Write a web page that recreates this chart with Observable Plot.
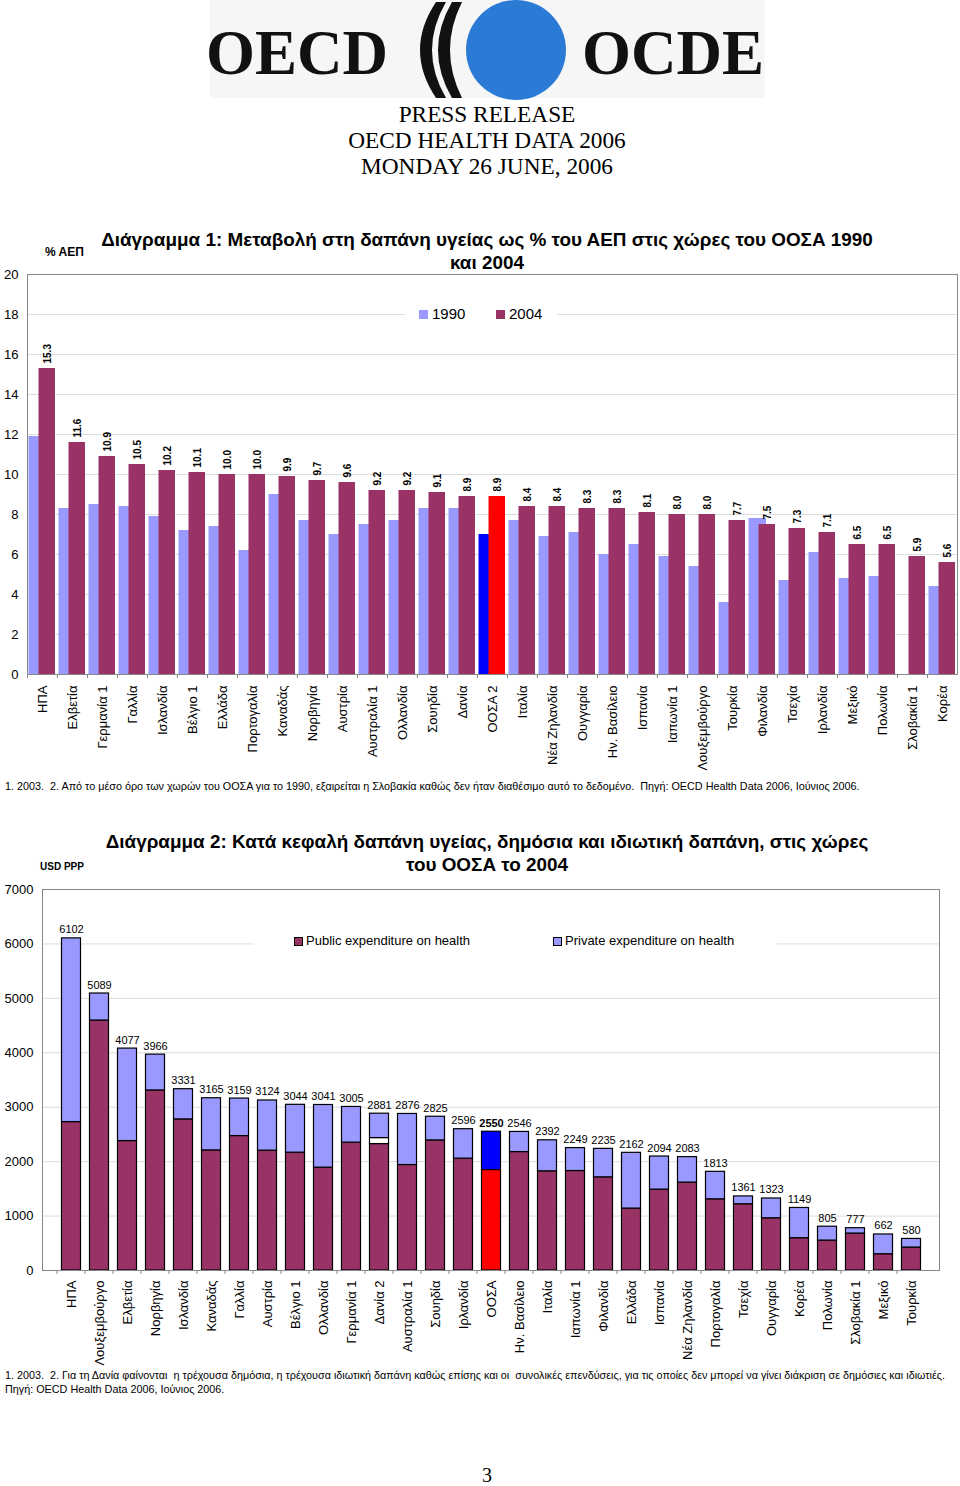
<!DOCTYPE html>
<html><head><meta charset="utf-8">
<script src="https://cdn.jsdelivr.net/npm/d3@7"></script>
<script src="https://cdn.jsdelivr.net/npm/@observablehq/plot@0.6"></script>
<style>
body{margin:0;background:#fff;font-family:"Liberation Sans",Arial,sans-serif;color:#000;}
#page{position:relative;width:960px;height:1486px;overflow:hidden;background:#fff;}
.abs{position:absolute;white-space:pre;}
.serif{font-family:"Liberation Serif","Times New Roman",serif;}
.ctr{left:0;width:974px;text-align:center;}
.sq{position:absolute;box-sizing:border-box;}
</style></head><body><div id="page">
<svg class="abs" style="left:0;top:0" width="960" height="100">
  <rect x="210" y="0" width="555" height="98" fill="#f6f6f6"/>
  <text x="297" y="74" text-anchor="middle" font-family="Liberation Serif, Times New Roman, serif" font-weight="bold" font-size="63" fill="#111">OECD</text>
  <text x="673" y="74" text-anchor="middle" font-family="Liberation Serif, Times New Roman, serif" font-weight="bold" font-size="63" fill="#111">OCDE</text>
  <path d="M436,2 Q404,50 436,98 L446,98 Q418,50 446,2 Z" fill="#111"/>
  <path d="M452,2 Q424,50 452,98 L462,98 Q438,50 462,2 Z" fill="#111"/>
  <circle cx="516" cy="50" r="50" fill="#2a7ad6"/>
</svg>
<div class="abs serif ctr" style="top:101px;font-size:23.3px;line-height:26px;">PRESS RELEASE
OECD HEALTH DATA 2006
MONDAY 26 JUNE, 2006</div>

<div class="abs ctr" style="top:228px;font-size:18.9px;line-height:23px;font-weight:bold;">Διάγραμμα 1: Μεταβολή στη δαπάνη υγείας ως % του ΑΕΠ στις χώρες του ΟΟΣΑ 1990
και 2004</div>
<div class="abs" style="left:45px;top:245px;font-size:12px;font-weight:bold;">% ΑΕΠ</div>
<div id="c1" class="abs" style="left:0;top:264px;"></div>
<div class="abs" style="left:405px;top:304px;width:152px;height:21px;background:#fff;"></div>
<div class="sq" style="left:419px;top:310px;width:9px;height:9px;background:#9999FF;"></div>
<div class="abs" style="left:432px;top:305px;font-size:15px;line-height:18px;">1990</div>
<div class="sq" style="left:496px;top:310px;width:9px;height:9px;background:#993366;"></div>
<div class="abs" style="left:509px;top:305px;font-size:15px;line-height:18px;">2004</div>
<div class="abs" style="left:5px;top:780px;font-size:10.8px;line-height:13px;">1. 2003.  2. Από το μέσο όρο των χωρών του ΟΟΣΑ για το 1990, εξαιρείται η Σλοβακία καθώς δεν ήταν διαθέσιμο αυτό το δεδομένο.  Πηγή: OECD Health Data 2006, Ιούνιος 2006.</div>

<div class="abs ctr" style="top:830px;font-size:18.9px;line-height:23px;font-weight:bold;">Διάγραμμα 2: Κατά κεφαλή δαπάνη υγείας, δημόσια και ιδιωτική δαπάνη, στις χώρες
του ΟΟΣΑ το 2004</div>
<div class="abs" style="left:40px;top:861px;font-size:10px;font-weight:bold;">USD PPP</div>
<div id="c2" class="abs" style="left:0;top:880px;"></div>
<div class="abs" style="left:254px;top:932px;width:523px;height:21px;background:#fff;"></div>
<div class="sq" style="left:294px;top:937px;width:9px;height:9px;background:#993366;border:1px solid #000;"></div>
<div class="abs" style="left:306px;top:933px;font-size:13px;line-height:16px;">Public expenditure on health</div>
<div class="sq" style="left:553px;top:937px;width:9px;height:9px;background:#9999FF;border:1px solid #000;"></div>
<div class="abs" style="left:565px;top:933px;font-size:13px;line-height:16px;">Private expenditure on health</div>
<div class="abs" style="left:5px;top:1368px;font-size:10.8px;line-height:14px;">1. 2003.  2. Για τη Δανία φαίνονται  η τρέχουσα δημόσια, η τρέχουσα ιδιωτική δαπάνη καθώς επίσης και οι  συνολικές επενδύσεις, για τις οποίες δεν μπορεί να γίνει διάκριση σε δημόσιες και ιδιωτιές.
Πηγή: OECD Health Data 2006, Ιούνιος 2006.</div>
<div class="abs serif ctr" style="top:1464px;font-size:20px;line-height:22px;">3</div>
</div>
<script>
// ---- Chart 1 data ----
const countries1 = ["ΗΠΑ","Ελβετία","Γερμανία 1","Γαλλία","Ισλανδία","Βέλγιο 1","Ελλάδα","Πορτογαλία","Καναδάς","Νορβηγία","Αυστρία","Αυστραλία 1","Ολλανδία","Σουηδία","Δανία","ΟΟΣΑ 2","Ιταλία","Νέα Ζηλανδία","Ουγγαρία","Ην. Βασίλειο","Ισπανία","Ιαπωνία 1","Λουξεμβούργο","Τουρκία","Φιλανδία","Τσεχία","Ιρλανδία","Μεξικό","Πολωνία","Σλοβακία 1","Κορέα"];
const v1990 = [11.9,8.3,8.5,8.4,7.9,7.2,7.4,6.2,9.0,7.7,7.0,7.5,7.7,8.3,8.3,7.0,7.7,6.9,7.1,6.0,6.5,5.9,5.4,3.6,7.8,4.7,6.1,4.8,4.9,null,4.4];
const v2004 = [15.3,11.6,10.9,10.5,10.2,10.1,10.0,10.0,9.9,9.7,9.6,9.2,9.2,9.1,8.9,8.9,8.4,8.4,8.3,8.3,8.1,8.0,8.0,7.7,7.5,7.3,7.1,6.5,6.5,5.9,5.6];
const yTicks1 = [0,2,4,6,8,10,12,14,16,18,20];
const oecd1 = "ΟΟΣΑ 2";

// ---- Chart 2 data ----
const countries2 = ["ΗΠΑ","Λουξεμβούργο","Ελβετία","Νορβηγία","Ισλανδία","Καναδάς","Γαλλία","Αυστρία","Βέλγιο 1","Ολλανδία","Γερμανία 1","Δανία 2","Αυστραλία 1","Σουηδία","Ιρλανδία","ΟΟΣΑ","Ην. Βασίλειο","Ιταλία","Ιαπωνία 1","Φιλανδία","Ελλάδα","Ισπανία","Νέα Ζηλανδία","Πορτογαλία","Τσεχία","Ουγγαρία","Κορέα","Πολωνία","Σλοβακία 1","Μεξικό","Τουρκία"];
const totals = [6102,5089,4077,3966,3331,3165,3159,3124,3044,3041,3005,2881,2876,2825,2596,2550,2546,2392,2249,2235,2162,2094,2083,1813,1361,1323,1149,805,777,662,580];
const publicExp = [2727,4593,2378,3308,2776,2207,2470,2202,2165,1890,2349,2323,1938,2390,2055,1846,2176,1822,1828,1712,1138,1486,1615,1308,1217,960,593,550,679,299,422];
const otherExp = [0,0,0,0,0,0,0,0,0,0,0,110,0,0,0,0,0,0,0,0,0,0,0,0,0,0,0,0,0,0,0];
const yTicks2 = [0,1000,2000,3000,4000,5000,6000,7000];
const oecd2 = "ΟΟΣΑ";

const FONT = '"Liberation Sans", Arial, sans-serif';
const C_PUB = "#993366", C_PRIV = "#9999FF";

// ---- Chart 1 ----
const data1 = countries1.map((c,i)=>({country:c, v1990:v1990[i], v2004:v2004[i], oecd:c===oecd1}));
const chart1 = Plot.plot({
  width:960, height:520, marginTop:10, marginBottom:110, marginLeft:27, marginRight:3,
  style:{fontFamily:FONT, fontSize:"13px", color:"#000", background:"transparent", overflow:"visible"},
  x:{domain:countries1, padding:0, axis:null},
  y:{domain:[0,20], axis:null},
  color:{type:"identity"},
  marks:[
    Plot.gridY(yTicks1, {stroke:"#dcdcdc", strokeOpacity:1}),
    Plot.barY(data1.filter(d=>d.v1990!=null), {x:"country", y:"v1990", fill:d=>d.oecd?"#0000FF":C_PRIV, insetLeft:1.5, insetRight:11}),
    Plot.barY(data1, {x:"country", y:"v2004", fill:d=>d.oecd?"#FF0000":C_PUB, insetLeft:11.5, insetRight:2}),
    Plot.text(data1, {x:"country", y:"v2004", text:d=>d.v2004.toFixed(1), rotate:-90, textAnchor:"start", dx:5, dy:-5, fontWeight:"bold", fontSize:10}),
    Plot.frame({stroke:"#888"}),
    Plot.axisY({ticks:yTicks1, tickSize:0, tickPadding:9, fontSize:13, label:null, tickFormat:d=>String(d)}),
    Plot.axisX({tickSize:0, tickPadding:11, tickRotate:-90, fontSize:13, label:null}),
    Plot.axisX({tickSize:4, tickFormat:()=>"", dx:-15, stroke:"#888", label:null})
  ]
});
document.getElementById("c1").appendChild(chart1);

// ---- Chart 2 ----
const segs = [];
countries2.forEach((c,i)=>{
  const isO = c===oecd2;
  const p = publicExp[i], o = otherExp[i], t = totals[i];
  segs.push({country:c, y1:0, y2:p, fill:isO?"#FF0000":C_PUB});
  if (o>0) segs.push({country:c, y1:p, y2:p+o, fill:"#FFFFFF"});
  segs.push({country:c, y1:p+o, y2:t, fill:isO?"#0000FF":C_PRIV});
});
const data2 = countries2.map((c,i)=>({country:c, total:totals[i], oecd:c===oecd2}));
const chart2 = Plot.plot({
  width:960, height:490, marginTop:9, marginBottom:100, marginLeft:42, marginRight:21,
  style:{fontFamily:FONT, fontSize:"13px", color:"#000", background:"transparent", overflow:"visible"},
  x:{domain:countries2, padding:0, axis:null},
  y:{domain:[0,7000], axis:null},
  color:{type:"identity"},
  marks:[
    Plot.gridY(yTicks2, {stroke:"#dcdcdc", strokeOpacity:1}),
    Plot.barY(segs, {x:"country", y1:"y1", y2:"y2", fill:"fill", stroke:"#000", strokeWidth:1.2, insetLeft:4.5, insetRight:4.5}),
    Plot.text(data2.filter(d=>!d.oecd), {x:"country", y:"total", text:d=>String(d.total), lineAnchor:"bottom", dy:-5, fontSize:11}),
    Plot.text(data2.filter(d=>d.oecd), {x:"country", y:"total", text:d=>String(d.total), lineAnchor:"bottom", dy:-5, fontSize:11, fontWeight:"bold"}),
    Plot.frame({stroke:"#888"}),
    Plot.axisY({ticks:yTicks2, tickSize:0, tickPadding:9, fontSize:13, label:null, tickFormat:d=>String(d)}),
    Plot.axisX({tickSize:0, tickPadding:10, tickRotate:-90, fontSize:13, label:null}),
    Plot.axisX({tickSize:4, tickFormat:()=>"", dx:-14.47, stroke:"#888", label:null})
  ]
});
document.getElementById("c2").appendChild(chart2);
</script>
</body></html>
